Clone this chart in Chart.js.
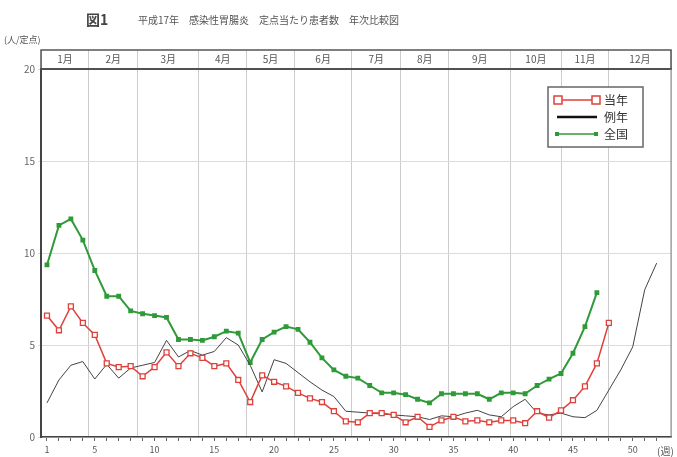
<!DOCTYPE html>
<html>
<head>
<meta charset="utf-8">
<script src="https://cdn.jsdelivr.net/npm/chart.js@4.4.1/dist/chart.umd.min.js"></script>
<style>
  html, body { margin: 0; padding: 0; background: #fff; }
  #wrap { width: 677px; height: 457px; }
</style>
</head>
<body>
<div id="wrap"><canvas id="myChart" width="677" height="457"></canvas></div>
<script>
// weeks 1..52
var weeks = [1,2,3,4,5,6,7,8,9,10,11,12,13,14,15,16,17,18,19,20,21,22,23,24,25,26,
             27,28,29,30,31,32,33,34,35,36,37,38,39,40,41,42,43,44,45,46,47,48,49,50,51,52];
var weekLabels = [1,5,10,15,20,25,30,35,40,45,50];
var monthLabels = ['1月','2月','3月','4月','5月','6月','7月','8月','9月','10月','11月','12月'];
var monthEdges = [0.5,4.5,8.6,13.7,17.7,21.7,26.5,30.6,34.6,39.8,44.0,48.0,53.2];
var yTicks = [0,5,10,15,20];

// 当年 (H17)
var tounen = [6.6,5.8,7.1,6.2,5.55,4.0,3.8,3.85,3.3,3.8,4.6,3.85,4.55,4.3,3.85,4.0,3.1,1.9,3.35,3.0,
              2.75,2.4,2.1,1.9,1.4,0.85,0.8,1.3,1.3,1.2,0.8,1.1,0.55,0.9,1.1,0.85,0.9,0.8,0.9,0.9,
              0.75,1.4,1.05,1.45,2.0,2.75,4.0,6.2];
// 例年
var reinen = [1.85,3.1,3.9,4.1,3.15,3.95,3.2,3.75,3.9,4.05,5.25,4.35,4.7,4.45,4.65,5.4,5.0,3.9,2.45,4.2,
              4.0,3.5,3.0,2.55,2.2,1.4,1.35,1.3,1.25,1.2,1.15,1.1,0.95,1.15,1.1,1.3,1.45,1.2,1.1,1.65,
              2.05,1.3,1.2,1.3,1.1,1.05,1.45,2.55,3.65,4.9,8.0,9.45];
// 全国
var zenkoku = [9.35,11.5,11.85,10.7,9.05,7.65,7.65,6.85,6.7,6.6,6.5,5.3,5.3,5.25,5.45,5.75,5.65,4.05,5.3,5.7,
               6.0,5.85,5.15,4.3,3.65,3.3,3.2,2.8,2.4,2.4,2.3,2.05,1.85,2.35,2.35,2.35,2.35,2.05,2.4,2.4,
               2.35,2.8,3.15,3.45,4.55,6.0,7.85];

var FONT = '"Noto Sans CJK JP", "Noto Sans", sans-serif';
var RED = '#e0403a';
var GREEN = '#2f9a38';
var BLACK = '#444444';

function toPoints(vals) {
    return vals.map(function (v, i) { return { x: weeks[i], y: v }; });
}

var monthCenters = [];
for (var m = 0; m < monthLabels.length; m++) {
    monthCenters.push((monthEdges[m] + monthEdges[m + 1]) / 2);
}

var decorations = {
    id: 'decorations',
    beforeDraw: function (chart) {
        var c = chart.ctx;
        c.save();
        c.fillStyle = '#fff';
        c.fillRect(0, 0, chart.width, chart.height);
        c.restore();
    },
    afterDraw: function (chart) {
        var c = chart.ctx;
        var a = chart.chartArea;
        c.save();
        // title
        c.fillStyle = '#444';
        c.textBaseline = 'middle';
        c.font = 'bold 14px ' + FONT;
        c.fillText('図1', 86, 20);
        c.font = '10px ' + FONT;
        c.fillStyle = '#555';
        c.fillText('平成17年　感染性胃腸炎　定点当たり患者数　年次比較図', 138, 20);
        // unit
        c.font = '9px ' + FONT;
        c.fillText('(人/定点)', 4, 40);
        // month band outline
        c.strokeStyle = '#555';
        c.lineWidth = 1.5;
        c.strokeRect(a.left, a.top - 19, a.right - a.left, 19);
        // right border
        c.beginPath();
        c.moveTo(a.right, a.top);
        c.lineTo(a.right, a.bottom);
        c.lineWidth = 1;
        c.strokeStyle = '#888';
        c.stroke();
        // week unit
        c.fillStyle = '#555';
        c.font = '10px ' + FONT;
        c.textBaseline = 'middle';
        c.fillText('(週)', a.right - 14, a.bottom + 14);

        // legend
        var lx = 548, ly = 87, lw = 95, lh = 60;
        c.fillStyle = '#fff';
        c.fillRect(lx, ly, lw, lh);
        c.strokeStyle = '#666';
        c.lineWidth = 1.5;
        c.strokeRect(lx, ly, lw, lh);
        var rows = [
            { text: '当年', color: RED, marker: 'rect' },
            { text: '例年', color: '#111', marker: null },
            { text: '全国', color: GREEN, marker: 'dot' }
        ];
        c.font = '12px ' + FONT;
        for (var i = 0; i < rows.length; i++) {
            var ry = ly + 13 + i * 17;
            c.strokeStyle = rows[i].color;
            c.lineWidth = i === 1 ? 2.5 : 1.5;
            c.beginPath();
            c.moveTo(557, ry);
            c.lineTo(597, ry);
            c.stroke();
            if (rows[i].marker === 'rect') {
                c.fillStyle = '#fff';
                c.lineWidth = 1.5;
                c.fillRect(554, ry - 4, 8, 8);
                c.strokeRect(554, ry - 4, 8, 8);
                c.fillRect(592, ry - 4, 8, 8);
                c.strokeRect(592, ry - 4, 8, 8);
            } else if (rows[i].marker === 'dot') {
                c.fillStyle = GREEN;
                c.fillRect(555, ry - 2, 4, 4);
                c.fillRect(594, ry - 2, 4, 4);
            }
            c.fillStyle = '#333';
            c.fillText(rows[i].text, 604, ry);
        }
        c.restore();
    }
};

var ctx = document.getElementById('myChart');
var chart = new Chart(ctx, {
    type: 'line',
    data: {
        datasets: [{
            label: '当年',
            data: toPoints(tounen),
            borderColor: RED,
            borderWidth: 1.5,
            pointStyle: 'rect',
            pointRadius: 3.5,
            pointBackgroundColor: '#fff',
            pointBorderColor: RED,
            pointBorderWidth: 1.3,
            tension: 0
        }, {
            label: '例年',
            data: toPoints(reinen),
            borderColor: BLACK,
            borderWidth: 1,
            pointRadius: 0,
            tension: 0
        }, {
            label: '全国',
            data: toPoints(zenkoku),
            borderColor: GREEN,
            borderWidth: 2,
            pointStyle: 'rect',
            pointRadius: 2,
            pointBackgroundColor: GREEN,
            pointBorderColor: GREEN,
            tension: 0
        }]
    },
    options: {
        responsive: false,
        animation: false,
        layout: { padding: { top: 0, right: 3, bottom: 0, left: 0 } },
        plugins: {
            legend: { display: false },
            tooltip: { enabled: false }
        },
        scales: {
            x: {
                type: 'linear',
                position: 'bottom',
                min: monthEdges[0],
                max: monthEdges[monthEdges.length - 1],
                afterBuildTicks: function (axis) {
                    axis.ticks = weeks.map(function (w) { return { value: w }; });
                },
                afterFit: function (axis) { axis.height = 20; },
                ticks: {
                    autoSkip: false,
                    maxRotation: 0,
                    padding: 3,
                    color: '#555',
                    font: { family: FONT, size: 9 },
                    callback: function (v) {
                        return weekLabels.indexOf(v) >= 0 ? String(v) : '';
                    }
                },
                grid: { drawOnChartArea: false, tickLength: 4, color: '#666' },
                border: { color: '#444', width: 1.5 }
            },
            xTop: {
                type: 'linear',
                position: 'top',
                min: monthEdges[0],
                max: monthEdges[monthEdges.length - 1],
                afterBuildTicks: function (axis) {
                    var t = [];
                    monthEdges.forEach(function (e) { t.push({ value: e }); });
                    monthCenters.forEach(function (c) { t.push({ value: c }); });
                    t.sort(function (p, q) { return p.value - q.value; });
                    axis.ticks = t;
                },
                afterFit: function (axis) { axis.height = 69; },
                ticks: {
                    autoSkip: false,
                    maxRotation: 0,
                    padding: -15,
                    color: '#555',
                    font: { family: FONT, size: 10 },
                    callback: function (v) {
                        var k = monthCenters.indexOf(v);
                        return k >= 0 ? monthLabels[k] : '';
                    }
                },
                grid: {
                    tickLength: 19,
                    lineWidth: 1,
                    color: function (c) {
                        return monthEdges.indexOf(c.tick.value) >= 0 ? '#cccccc' : 'rgba(0,0,0,0)';
                    }
                },
                border: { color: '#444', width: 2 }
            },
            y: {
                min: 0,
                max: 20,
                afterBuildTicks: function (axis) {
                    axis.ticks = yTicks.map(function (v) { return { value: v }; });
                },
                afterFit: function (axis) { axis.width = 41; },
                ticks: {
                    padding: 3,
                    color: '#666',
                    font: { family: FONT, size: 10 }
                },
                grid: { color: '#dcdcdc', tickLength: 3 },
                border: { color: '#444', width: 2 }
            }
        }
    },
    plugins: [decorations]
});
</script>
</body>
</html>
